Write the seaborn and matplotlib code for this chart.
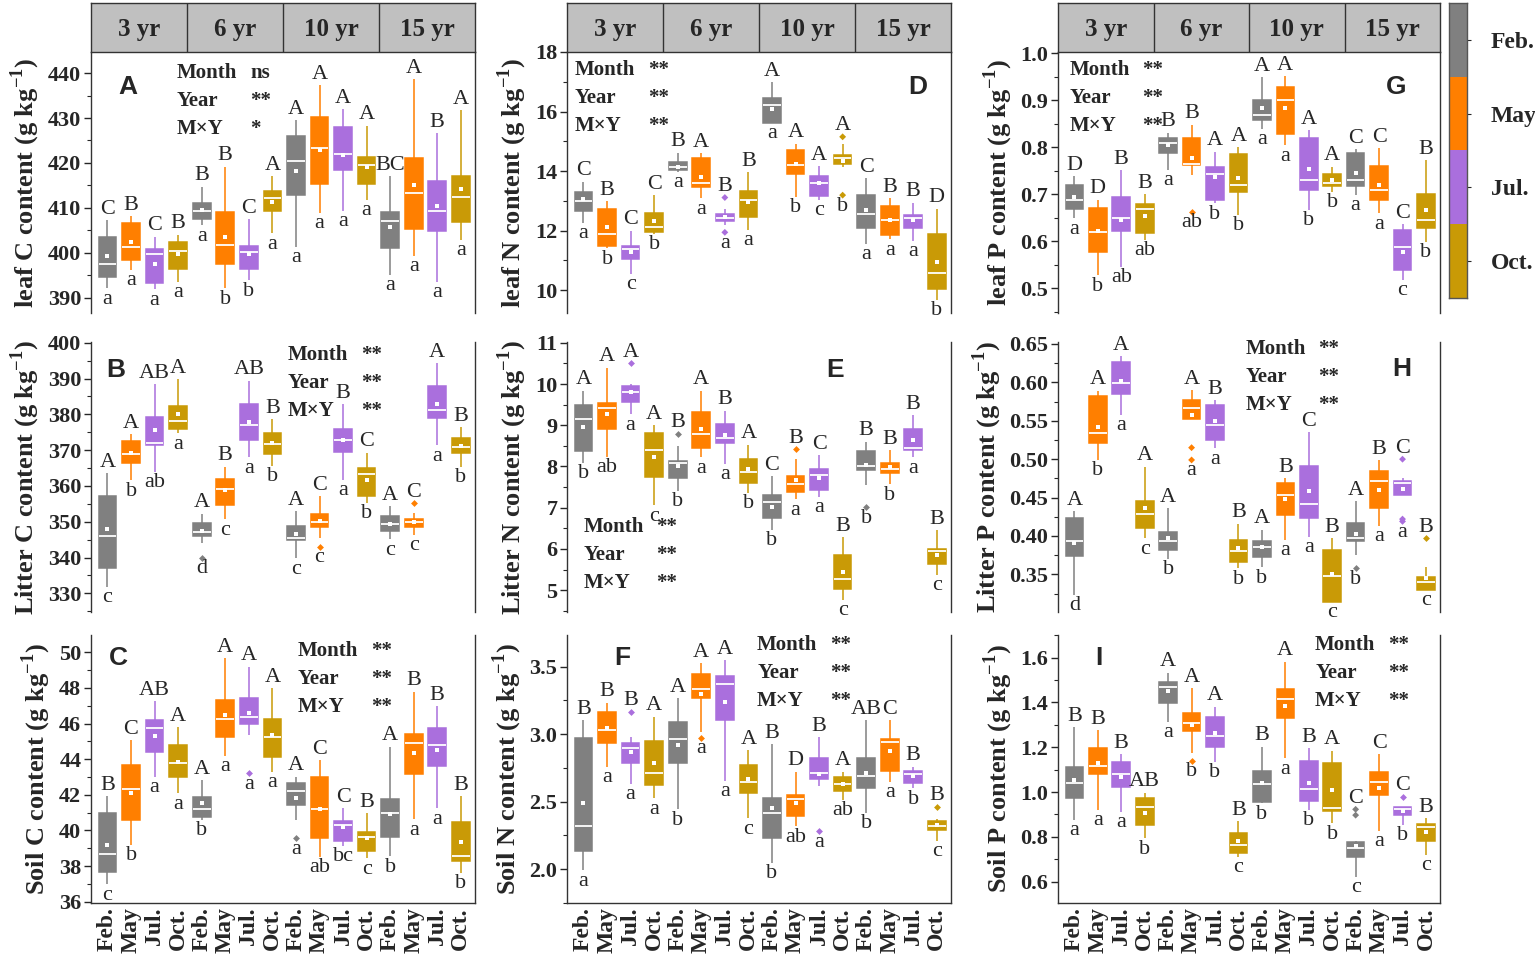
import numpy as np
import pandas as pd
import matplotlib.pyplot as plt
import seaborn as sns
from matplotlib.colors import ListedColormap
from matplotlib.ticker import MultipleLocator, FormatStrFormatter

# ==========================
# DATA
# ==========================
years = ["3 yr", "6 yr", "10 yr", "15 yr"]
months = ["Feb.", "May", "Jul.", "Oct."]
colors = ["#808080", "#FF7F00", "#AA6FDD", "#C99A06"]
slots = [f"{y} {m}" for y in years for m in months]

# box rows: [min, q1, median, q3, max], order 3yr Feb..Oct, 6yr ..., 10yr ..., 15yr ...
A_box = [[392.1, 394.7, 397.4, 403.6, 407.3], [396.2, 398.4, 401.3, 406.7, 408.2],
         [391.9, 393.3, 399.7, 400.8, 403.6], [393.6, 396.5, 400.5, 402.3, 404.0],
         [406.1, 407.5, 409.4, 411.0, 414.7], [392.1, 397.5, 401.7, 409.1, 419.2],
         [393.9, 396.5, 400.1, 401.5, 407.5], [404.3, 409.2, 412.1, 413.8, 417.0],
         [401.4, 412.9, 420.5, 425.9, 429.5], [408.9, 415.3, 423.3, 430.3, 437.3],
         [409.4, 418.5, 422.0, 428.1, 432.0], [411.8, 415.3, 419.6, 421.3, 428.3],
         [395.1, 401.0, 407.1, 409.1, 417.0], [399.3, 405.3, 413.3, 421.1, 438.7],
         [393.6, 404.9, 409.4, 415.9, 426.6], [402.9, 406.9, 412.4, 417.0, 431.7]]
A_mean = [399.3, 402.3, 397.6, 399.7, 409.5, 403.6, 399.7, 411.4,
          418.2, 422.9, 421.7, 419.0, 405.8, 415.0, 410.4, 414.1]
A_out = []
A_up = ["C", "B", "C", "B", "B", "B", "C", "A", "A", "A", "A", "A", "BC", "A", "B", "A"]
A_low = ["a", "a", "a", "a", "a", "b", "b", "a", "a", "a", "a", "a", "a", "a", "a", "a"]

D_box = [[12.26, 12.66, 12.99, 13.30, 13.64], [11.40, 11.49, 11.87, 12.71, 12.99],
         [10.54, 11.06, 11.37, 11.49, 11.99], [11.90, 11.96, 12.13, 12.60, 13.19],
         [13.97, 14.05, 14.14, 14.29, 14.61], [13.08, 13.45, 13.60, 14.45, 14.59],
         [12.18, 12.32, 12.41, 12.55, 12.74], [12.02, 12.46, 13.04, 13.32, 13.97],
         [15.62, 15.62, 16.21, 16.46, 16.99], [13.13, 13.89, 14.20, 14.70, 14.92],
         [13.04, 13.16, 13.60, 13.83, 14.17], [14.14, 14.23, 14.45, 14.53, 14.90],
         [11.55, 12.09, 12.57, 13.19, 13.75], [11.70, 11.85, 12.37, 12.82, 13.08],
         [11.65, 12.07, 12.41, 12.52, 12.93], [9.67, 10.02, 10.58, 11.90, 12.74]]
D_mean = [13.06, 12.11, 11.27, 12.33, 14.14, 13.81, 12.44, 12.97,
          16.08, 14.23, 13.60, 14.34, 12.69, 12.35, 12.35, 10.95]
D_out = [(6, 13.11), (6, 11.94), (11, 15.15), (11, 13.19)]
D_up = ["C", "B", "C", "C", "B", "A", "B", "B", "A", "A", "A", "A", "C", "B", "B", "D"]
D_low = ["a", "b", "c", "b", "a", "a", "a", "a", "a", "b", "c", "b", "a", "a", "a", "b"]

G_box = [[0.649, 0.668, 0.689, 0.719, 0.739], [0.528, 0.578, 0.619, 0.670, 0.689],
         [0.546, 0.621, 0.650, 0.695, 0.752], [0.603, 0.617, 0.668, 0.679, 0.701],
         [0.752, 0.787, 0.809, 0.819, 0.831], [0.741, 0.762, 0.764, 0.821, 0.848],
         [0.681, 0.689, 0.743, 0.759, 0.791], [0.656, 0.704, 0.720, 0.786, 0.801],
         [0.840, 0.858, 0.869, 0.901, 0.950], [0.804, 0.828, 0.901, 0.929, 0.952],
         [0.667, 0.709, 0.730, 0.819, 0.837], [0.706, 0.718, 0.725, 0.743, 0.759],
         [0.699, 0.718, 0.730, 0.789, 0.796], [0.660, 0.687, 0.709, 0.761, 0.798],
         [0.518, 0.540, 0.587, 0.624, 0.637], [0.599, 0.628, 0.645, 0.701, 0.773]]
G_mean = [0.694, 0.622, 0.645, 0.654, 0.804, 0.777, 0.738, 0.734,
          0.883, 0.883, 0.755, 0.730, 0.745, 0.720, 0.578, 0.667]
G_out = [(5, 0.663)]
G_up = ["D", "D", "B", "B", "B", "B", "A", "A", "A", "A", "A", "A", "C", "C", "C", "B"]
G_low = ["a", "b", "ab", "ab", "a", "ab", "b", "b", "a", "a", "b", "b", "a", "a", "c", "b"]

B_box = [[331.9, 337.0, 346.1, 357.2, 363.5], [361.6, 366.5, 368.8, 372.6, 374.5],
         [364.0, 371.3, 372.1, 379.3, 388.5], [374.7, 375.8, 378.2, 382.4, 389.8],
         [344.1, 346.0, 347.2, 349.7, 352.2], [350.7, 354.6, 359.1, 362.0, 365.4],
         [368.0, 372.8, 377.0, 382.8, 389.4], [365.6, 368.9, 371.6, 374.9, 378.6],
         [339.8, 344.9, 345.4, 348.9, 353.0], [345.4, 348.6, 350.0, 352.3, 357.2],
         [361.8, 369.6, 372.8, 375.9, 382.9], [355.3, 357.3, 363.2, 364.9, 369.3],
         [345.1, 347.5, 349.4, 351.7, 354.4], [346.3, 348.4, 349.8, 350.8, 352.5],
         [371.4, 378.9, 381.2, 388.0, 394.2], [365.4, 369.1, 371.0, 373.5, 376.4]]
B_mean = [347.9, 369.3, 375.6, 380.1, 347.4, 358.9, 377.9, 371.9,
          346.6, 350.2, 372.8, 361.8, 349.4, 350.0, 382.9, 371.1]
B_out = [(4, 340.0), (9, 343.0), (13, 355.1)]
B_up = ["A", "A", "AB", "A", "A", "B", "AB", "B", "A", "C", "B", "C", "A", "C", "A", "B"]
B_low = ["c", "b", "ab", "a", "d", "c", "a", "b", "c", "c", "a", "b", "c", "c", "a", "b"]

E_box = [[8.09, 8.38, 9.14, 9.49, 9.84], [8.24, 8.90, 9.41, 9.53, 10.40],
         [9.27, 9.57, 9.81, 9.95, 10.01], [7.06, 7.75, 8.40, 8.82, 9.00],
         [7.41, 7.73, 8.09, 8.14, 8.49], [8.22, 8.45, 8.80, 9.31, 9.84],
         [8.06, 8.57, 8.70, 9.04, 9.35], [7.36, 7.61, 7.86, 8.19, 8.53],
         [6.47, 6.74, 7.13, 7.32, 7.77], [7.20, 7.39, 7.57, 7.77, 8.17],
         [7.27, 7.44, 7.79, 7.93, 8.28], [4.76, 5.04, 5.27, 5.85, 6.28],
         [7.56, 7.91, 8.01, 8.37, 8.60], [7.57, 7.83, 7.95, 8.09, 8.40],
         [8.22, 8.40, 8.46, 8.90, 9.25], [5.37, 5.63, 5.96, 6.01, 6.46]]
E_mean = [8.96, 9.27, 9.81, 8.22, 8.01, 8.92, 8.76, 7.95,
          7.01, 7.67, 7.71, 5.45, 8.03, 7.99, 8.64, 5.85]
E_out = [(2, 10.50), (4, 8.80), (9, 8.42), (12, 7.01)]
E_up = ["A", "A", "A", "A", "B", "A", "B", "A", "C", "B", "C", "B", "B", "B", "B", "B"]
E_low = ["b", "ab", "a", "c", "b", "a", "a", "b", "b", "a", "a", "c", "b", "b", "a", "c"]

H_box = [[0.323, 0.374, 0.393, 0.423, 0.432], [0.499, 0.521, 0.534, 0.582, 0.589],
         [0.558, 0.585, 0.599, 0.626, 0.634], [0.397, 0.411, 0.429, 0.446, 0.490],
         [0.370, 0.382, 0.394, 0.405, 0.436], [0.552, 0.552, 0.567, 0.577, 0.590],
         [0.514, 0.525, 0.545, 0.571, 0.577], [0.358, 0.366, 0.380, 0.395, 0.416],
         [0.359, 0.372, 0.385, 0.394, 0.408], [0.395, 0.427, 0.453, 0.469, 0.475],
         [0.399, 0.424, 0.442, 0.491, 0.535], [0.314, 0.314, 0.348, 0.382, 0.397],
         [0.375, 0.393, 0.397, 0.417, 0.445], [0.413, 0.436, 0.472, 0.484, 0.499],
         [0.453, 0.453, 0.469, 0.472, 0.476], [0.330, 0.330, 0.340, 0.347, 0.360]]
H_mean = [0.391, 0.542, 0.602, 0.436, 0.397, 0.558, 0.550, 0.384,
          0.385, 0.448, 0.459, 0.350, 0.402, 0.460, 0.461, 0.345]
H_out = [(5, 0.515), (5, 0.499), (12, 0.358), (14, 0.500), (14, 0.422), (14, 0.419), (15, 0.397)]
H_up = ["A", "A", "A", "A", "A", "A", "B", "B", "A", "B", "C", "B", "A", "B", "C", "B"]
H_low = ["d", "b", "a", "c", "b", "a", "a", "b", "b", "a", "a", "c", "b", "a", "a", "c"]

C_box = [[36.99, 37.68, 38.68, 40.96, 41.93], [39.18, 40.59, 42.31, 43.67, 45.08],
         [43.02, 44.39, 45.73, 46.20, 47.27], [42.08, 42.98, 43.81, 44.80, 45.79],
         [40.59, 40.77, 41.18, 41.86, 42.83], [44.18, 45.23, 46.26, 47.32, 49.66],
         [45.36, 45.98, 46.39, 47.42, 49.20], [43.30, 44.10, 45.23, 46.24, 47.98],
         [40.59, 41.43, 42.23, 42.64, 43.02], [38.53, 39.56, 41.20, 42.98, 43.95],
         [39.13, 39.41, 40.31, 40.53, 41.24], [38.43, 38.85, 39.65, 39.93, 40.96],
         [38.56, 39.65, 40.96, 41.75, 44.70], [40.62, 43.17, 44.89, 45.41, 47.79],
         [41.24, 43.64, 44.80, 45.73, 46.99], [37.63, 38.30, 38.56, 40.49, 41.93]]
C_mean = [39.18, 42.08, 45.30, 43.86, 41.56, 46.48, 46.57, 45.36,
          41.80, 41.20, 40.17, 39.56, 40.90, 44.37, 44.52, 39.37]
C_out = [(6, 43.21), (8, 39.56)]
C_up = ["B", "C", "AB", "A", "A", "A", "A", "A", "A", "C", "C", "B", "A", "B", "B", "B"]
C_low = ["c", "b", "a", "a", "b", "a", "a", "a", "a", "ab", "bc", "c", "b", "a", "a", "b"]

F_box = [[1.990, 2.131, 2.323, 2.970, 3.105], [2.760, 2.937, 3.031, 3.167, 3.234],
         [2.631, 2.784, 2.896, 2.933, 2.982], [2.525, 2.624, 2.716, 2.950, 3.130],
         [2.444, 2.789, 2.965, 3.093, 3.266], [3.019, 3.266, 3.335, 3.443, 3.525],
         [2.656, 3.105, 3.372, 3.433, 3.549], [2.377, 2.567, 2.644, 2.772, 2.883],
         [2.049, 2.229, 2.419, 2.530, 2.928], [2.316, 2.397, 2.520, 2.550, 2.723],
         [2.619, 2.669, 2.716, 2.821, 2.977], [2.513, 2.582, 2.629, 2.686, 2.723],
         [2.419, 2.599, 2.691, 2.821, 3.105], [2.649, 2.730, 2.945, 2.965, 3.105],
         [2.599, 2.636, 2.706, 2.730, 2.760], [2.212, 2.291, 2.321, 2.360, 2.370]]
F_mean = [2.493, 3.044, 2.871, 2.784, 2.920, 3.298, 3.241, 2.666,
          2.451, 2.493, 2.706, 2.629, 2.710, 2.876, 2.693, 2.328]
F_out = [(2, 3.167), (5, 2.974), (10, 2.279), (15, 2.464)]
F_up = ["B", "B", "B", "A", "A", "A", "A", "A", "B", "D", "B", "A", "AB", "C", "B", "B"]
F_low = ["a", "a", "a", "a", "b", "a", "a", "c", "b", "ab", "a", "ab", "b", "a", "b", "c"]

I_box = [[0.875, 0.972, 1.042, 1.110, 1.289], [0.920, 1.081, 1.118, 1.198, 1.277],
         [0.912, 1.024, 1.081, 1.136, 1.170], [0.793, 0.853, 0.935, 0.975, 0.997],
         [1.314, 1.399, 1.468, 1.493, 1.533], [1.176, 1.273, 1.310, 1.351, 1.463],
         [1.136, 1.203, 1.250, 1.337, 1.381], [0.712, 0.726, 0.764, 0.816, 0.871],
         [0.950, 0.957, 1.036, 1.096, 1.203], [1.151, 1.332, 1.415, 1.459, 1.582],
         [0.920, 0.960, 1.012, 1.139, 1.195], [0.860, 0.915, 0.927, 1.128, 1.185],
         [0.622, 0.709, 0.749, 0.779, 0.782], [0.828, 0.987, 1.046, 1.091, 1.170],
         [0.853, 0.898, 0.924, 0.932, 0.935], [0.719, 0.782, 0.843, 0.856, 0.883]]
I_mean = [1.054, 1.131, 1.069, 0.908, 1.453, 1.299, 1.262, 0.782,
          1.042, 1.386, 1.039, 1.009, 0.759, 1.020, 0.917, 0.823]
I_out = [(5, 1.140), (12, 0.923), (12, 0.897), (14, 0.979)]
I_up = ["B", "B", "B", "AB", "A", "A", "A", "B", "B", "A", "B", "A", "C", "C", "C", "B"]
I_low = ["a", "a", "a", "b", "a", "b", "b", "c", "b", "a", "b", "b", "c", "a", "b", "c"]

# ==========================
# STYLE
# ==========================
sns.set_style("ticks")
plt.rcParams["font.family"] = ["Liberation Serif", "DejaVu Serif"]
plt.rcParams["font.weight"] = "bold"
plt.rcParams["axes.edgecolor"] = "#333333"
plt.rcParams["axes.linewidth"] = 1.0

W, H = 1535, 959
fig = plt.figure(figsize=(W / 100, H / 100), dpi=100)


def px_axes(l, t, r, b):
    return fig.add_axes([l / W, 1 - b / H, (r - l) / W, (b - t) / H])


cols = [(91, 475), (567, 951), (1058, 1440)]
rows = [(52, 313), (342, 612), (635, 903)]

# panel settings: letter, col, row, data, ylabel, ylim, major, minor, fmt, letter pos, stats pos
panels = [
    ("A", 0, 0, A_box, A_mean, A_out, A_up, A_low, "leaf C content", (386.6, 444.7), 10, 5, "%d",
     (0.096, 0.866), (0.224, 0.92), ["ns", "**", "*"]),
    ("D", 1, 0, D_box, D_mean, D_out, D_up, D_low, "leaf N content", (9.23, 18.0), 2, 1, "%d",
     (0.914, 0.866), (0.02, 0.93), ["**", "**", "**"]),
    ("G", 2, 0, G_box, G_mean, G_out, G_up, G_low, "leaf P content", (0.4475, 1.003), 0.1, 0.05, "%.1f",
     (0.885, 0.866), (0.03, 0.93), ["**", "**", "**"]),
    ("B", 0, 1, B_box, B_mean, B_out, B_up, B_low, "Litter C content", (324.8, 400.2), 10, 5, "%d",
     (0.065, 0.896), (0.513, 0.95), ["**", "**", "**"]),
    ("E", 1, 1, E_box, E_mean, E_out, E_up, E_low, "Litter N content", (4.47, 11.02), 1, 0.5, "%d",
     (0.698, 0.896), (0.042, 0.315), ["**", "**", "**"]),
    ("H", 2, 1, H_box, H_mean, H_out, H_up, H_low, "Litter P content", (0.301, 0.6526), 0.05, 0.025, "%.2f",
     (0.90, 0.90), (0.49, 0.974), ["**", "**", "**"]),
    ("C", 0, 2, C_box, C_mean, C_out, C_up, C_low, "Soil C content", (35.93, 50.97), 2, 1, "%d",
     (0.07, 0.914), (0.539, 0.94), ["**", "**", "**"]),
    ("F", 1, 2, F_box, F_mean, F_out, F_up, F_low, "Soil N content", (1.749, 3.735), 0.5, 0.25, "%.1f",
     (0.143, 0.914), (0.495, 0.963), ["**", "**", "**"]),
    ("I", 2, 2, I_box, I_mean, I_out, I_up, I_low, "Soil P content", (0.505, 1.701), 0.2, 0.1, "%.1f",
     (0.107, 0.914), (0.673, 0.963), ["**", "**", "**"]),
]

for (letter, ci, ri, box, mean, out, up, low, ylab, ylim, major, minor, fmt,
     lpos, spos, stars) in panels:
    l, r = cols[ci]
    t, b = rows[ri]
    ax = px_axes(l, t, r, b)

    recs = []
    for i, vals in enumerate(box):
        for v in vals:
            recs.append({"slot": slots[i], "month": months[i % 4], "value": v})
    df = pd.DataFrame(recs)

    for m, c in zip(months, colors):
        sns.boxplot(data=df[df["month"] == m], x="slot", y="value", order=slots,
                    color=c, linecolor=c, saturation=1, width=0.75, whis=(0, 100),
                    linewidth=1.1, showcaps=False,
                    medianprops={"color": "white", "linewidth": 1.3}, ax=ax)

    mean_df = pd.DataFrame({"slot": slots, "mean": mean})
    sns.stripplot(data=mean_df, x="slot", y="mean", order=slots, jitter=False,
                  marker="s", size=2.2, color="white", linewidth=0, ax=ax)

    if out:
        out_df = pd.DataFrame(out, columns=["idx", "value"])
        out_df["slot"] = [slots[j] for j in out_df["idx"]]
        out_df["month"] = [months[j % 4] for j in out_df["idx"]]
        sns.stripplot(data=out_df, x="slot", y="value", order=slots, hue="month",
                      hue_order=months, palette=colors, jitter=False, marker="D",
                      size=3.5, linewidth=0, legend=False, ax=ax)

    # significance letters
    for i in range(16):
        hi = max([box[i][4]] + [v for j, v in out if j == i])
        lo = min([box[i][0]] + [v for j, v in out if j == i])
        ax.annotate(up[i], xy=(i, hi), xytext=(0, 1), textcoords="offset points",
                    ha="center", va="bottom", fontsize=16, fontweight="normal",
                    annotation_clip=False)
        ax.annotate(low[i], xy=(i, lo), xytext=(0, -1), textcoords="offset points",
                    ha="center", va="top", fontsize=16, fontweight="normal",
                    annotation_clip=False)

    ax.set_xlim(-0.7, 15.6)
    ax.set_ylim(*ylim)
    ax.yaxis.set_major_locator(MultipleLocator(major))
    ax.yaxis.set_minor_locator(MultipleLocator(minor))
    ax.yaxis.set_major_formatter(FormatStrFormatter(fmt))
    ax.tick_params(axis="y", which="major", direction="out", length=5, width=1,
                   labelsize=16, pad=2)
    ax.tick_params(axis="y", which="minor", direction="out", length=3, width=0.8)

    ax.set_xlabel("")
    ax.set_ylabel(ylab + r" (g kg$^{\mathregular{-1}}$)", fontsize=19,
                  fontweight="bold", labelpad=4)

    ax.spines["top"].set_visible(False)
    if ri == 2:
        ax.set_xticks(range(16))
        ax.set_xticklabels(months * 4, rotation=90, fontsize=17, fontweight="bold")
        ax.tick_params(axis="x", length=0, pad=3)
    else:
        ax.spines["bottom"].set_visible(False)
        ax.set_xticks([])

    ax.text(lpos[0], lpos[1], letter, transform=ax.transAxes, fontsize=19,
            fontweight="bold", family="Liberation Sans", ha="center", va="center")

    dy = 28 / (b - t)
    for k, (name, s) in enumerate(zip(["Month", "Year", "M×Y"], stars)):
        ax.text(spos[0], spos[1] - k * dy, name, transform=ax.transAxes,
                fontsize=15, fontweight="bold", ha="left", va="center")
        ax.text(spos[0] + 0.19, spos[1] - k * dy, s, transform=ax.transAxes,
                fontsize=15, fontweight="bold", ha="left", va="center")

# ==========================
# HEADER STRIPS
# ==========================
for l, r in cols:
    hax = px_axes(l, 3, r, 52)
    hax.set_facecolor("#C0C0C0")
    hax.set_xlim(0, 4)
    hax.set_ylim(0, 1)
    for k in range(1, 4):
        hax.axvline(k, color="#333333", linewidth=1.0)
    for k, y in enumerate(years):
        hax.text(k + 0.5, 0.45, y, ha="center", va="center", fontsize=18,
                 fontweight="bold")
    hax.set_xticks([])
    hax.set_yticks([])
    for sp in hax.spines.values():
        sp.set_visible(True)
        sp.set_color("#333333")

# ==========================
# MONTH COLOUR LEGEND
# ==========================
lax = px_axes(1449, 3, 1467, 298)
lax.imshow(np.arange(4).reshape(4, 1), cmap=ListedColormap(colors), aspect="auto")
lax.set_xticks([])
lax.set_yticks(range(4))
lax.set_yticklabels(months, fontsize=17, fontweight="bold")
lax.yaxis.tick_right()
lax.tick_params(axis="y", length=3, width=0.8, pad=14)
for sp in lax.spines.values():
    sp.set_color("#555555")

plt.savefig("out.png", dpi=100)
